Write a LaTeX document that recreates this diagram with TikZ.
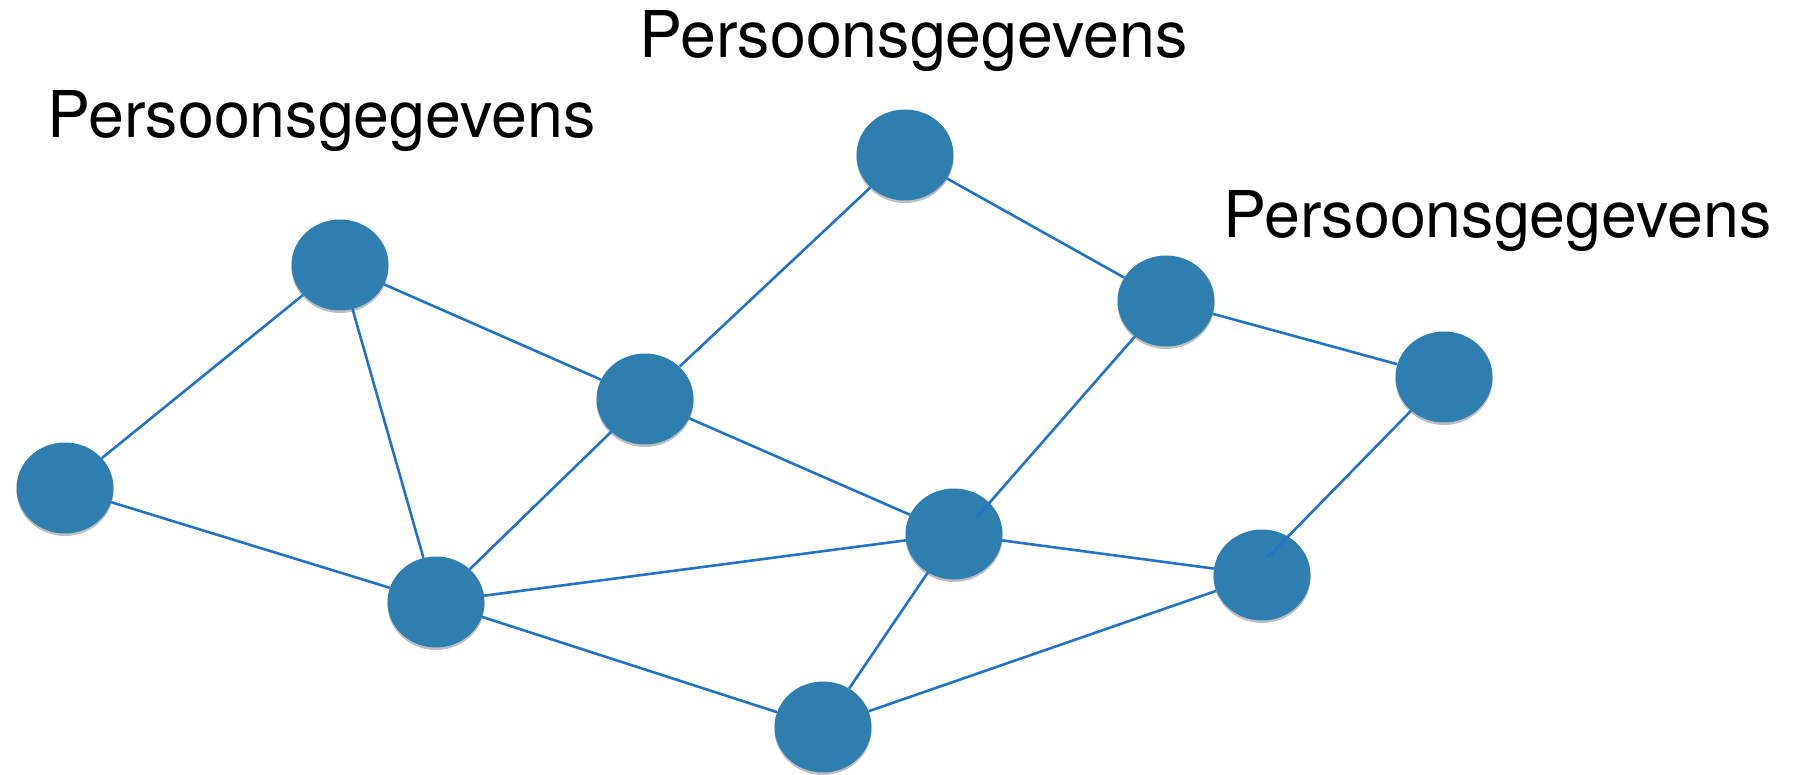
\documentclass[tikz,border=0pt]{standalone}
\usepackage{fontspec}
\setmainfont{TeX Gyre Heros}
\usetikzlibrary{shapes.geometric,shadows}
\definecolor{nodeblue}{RGB}{47,126,176}
\definecolor{edgeblue}{RGB}{35,115,200}
\begin{document}
\begin{tikzpicture}[x=1pt,y=-1pt,
  dot/.style={ellipse,fill=nodeblue,minimum width=97pt,minimum height=91pt,inner sep=0pt,
    drop shadow={shadow xshift=0pt,shadow yshift=-2.5pt,opacity=0.25,fill=black}},
  link/.style={draw=edgeblue,line width=2.6pt},
  lbl/.style={anchor=base west,inner sep=0pt,font=\fontsize{64.5}{75}\selectfont}]
\useasboundingbox (0,0) rectangle (1799,775);
\node[dot] (A) at (65,488) {};
\node[dot] (B) at (340,265) {};
\node[dot] (C) at (645,399) {};
\node[dot] (D) at (905,155) {};
\node[dot] (E) at (1166,301) {};
\node[dot] (F) at (1444,377) {};
\node[dot] (G) at (954,534) {};
\node[dot] (H) at (1262,575) {};
\node[dot] (I) at (436,602) {};
\node[dot] (J) at (823,727) {};
\coordinate (Hin) at (1268,557);
\coordinate (Gin) at (977,517);
\draw[link] (A) -- (B);
\draw[link] (A) -- (I);
\draw[link] (B) -- (I);
\draw[link] (B) -- (C);
\draw[link] (C) -- (I);
\draw[link] (C) -- (D);
\draw[link] (C) -- (G);
\draw[link] (D) -- (E);
\draw[link] (E) -- (F);
\draw[link] (G) -- (I);
\draw[link] (G) -- (H);
\draw[link] (G) -- (J);
\draw[link] (I) -- (J);
\draw[link] (J) -- (H);
\draw[link] (F) -- (Hin);
\draw[link] (E) -- (Gin);
\node[lbl] (L1) at (47,138) {Persoonsgegevens};
\node[lbl] (L2) at (639,58) {Persoonsgegevens};
\node[lbl] (L3) at (1223,238) {Persoonsgegevens};
\end{tikzpicture}
\end{document}
